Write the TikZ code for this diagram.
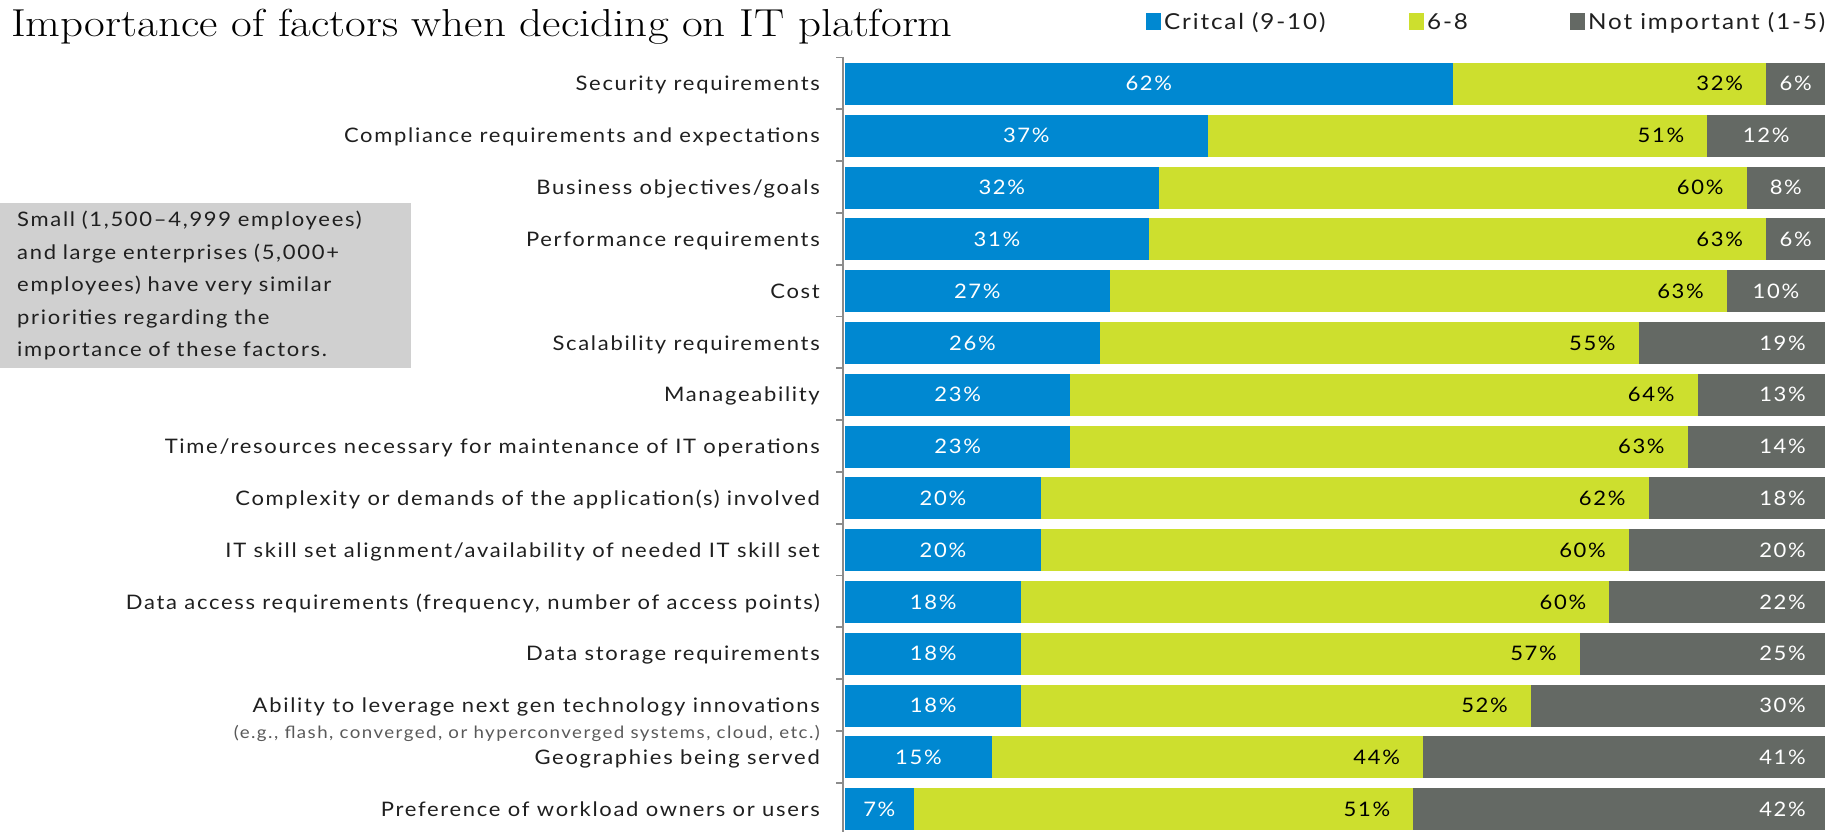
\documentclass[tikz,border=0pt]{standalone}
\usepackage{fontspec}
\newfontfamily\labelfont[FakeStretch=1.1,LetterSpace=8.5]{Lato}
\definecolor{critblue}{HTML}{0088D1}
\definecolor{midgreen}{HTML}{CDDF2E}
\definecolor{lowgray}{HTML}{646964}
\definecolor{notegray}{HTML}{D0D0D0}
\begin{document}
\begin{tikzpicture}[x=1pt,y=-1pt,
  pct/.style={font=\labelfont\fontsize{20}{24}\selectfont,inner sep=0pt},
  rowlabel/.style={pct,anchor=base east,text=black!88},
  legendtext/.style={font=\labelfont\fontsize{22}{26}\selectfont,inner sep=0pt,anchor=base west,text=black!88}]
  \useasboundingbox (0,0) rectangle (1842,832);
  \node [anchor=base west,inner sep=0pt,font=\fontsize{39}{44}\selectfont] (title) at (11,37)
   {\scalebox{1.155}[1]{Importance of factors when deciding on IT platform}};
  % legend
  \fill [critblue] (1146,13) rectangle (1161,30);
  \node [legendtext] (legcrit) at (1164,30) {Critcal (9-10)};
  \fill [midgreen] (1409,13) rectangle (1424,30);
  \node [legendtext] (legmid) at (1427,30) {6-8};
  \fill [lowgray] (1570,13) rectangle (1585,30);
  \node [legendtext] (leglow) at (1588,30) {Not important (1-5)};
  % note box
  \node [anchor=north west,fill=notegray,minimum width=411pt,minimum height=165pt,
   inner xsep=17pt,text width=377pt,align=left,text=black!88,
   font=\labelfont\fontsize{20}{32.5}\selectfont] (note) at (0,203)
   {Small (1,500–4,999 employees)\\and large enterprises (5,000+\\employees) have very similar\\priorities regarding the\\importance of these factors.};
  % axis
  \draw [line width=1.8pt,black!45] (843,57) -- (843,832);
  \foreach \k in {0,...,14}
   \draw [line width=1.8pt,black!45] (836,57.5+51.8*\k) -- (843,57.5+51.8*\k);
  % bars
  \foreach \lab/\a/\b/\c [count=\i] in {
    {Security requirements}/62/32/6,
    {Compliance requirements and expectations}/37/51/12,
    {Business objectives/goals}/32/60/8,
    {Performance requirements}/31/63/6,
    {Cost}/27/63/10,
    {Scalability requirements}/26/55/19,
    {Manageability}/23/64/13,
    {Time/resources necessary for maintenance of IT operations}/23/63/14,
    {Complexity or demands of the application(s) involved}/20/62/18,
    {IT skill set alignment/availability of needed IT skill set}/20/60/20,
    {Data access requirements (frequency, number of access points)}/18/60/22,
    {Data storage requirements}/18/57/25,
    {Ability to leverage next gen technology innovations}/18/52/30,
    {Geographies being served}/15/44/41,
    {Preference of workload owners or users}/7/51/42}{
    \pgfmathsetmacro\yc{84+51.8*(\i-1)}
    \pgfmathsetmacro\xa{845+9.8*\a}
    \pgfmathsetmacro\xb{845+9.8*(\a+\b)}
    \fill [critblue] (845,\yc-21) rectangle (\xa,\yc+21);
    \fill [midgreen] (\xa,\yc-21) rectangle (\xb,\yc+21);
    \fill [lowgray] (\xb,\yc-21) rectangle (1825,\yc+21);
    \node [rowlabel] (lab\i) at (820,\yc+7) {\lab};
    \node [pct,anchor=base,text=white] (crit\i) at ({(845+\xa)/2},\yc+7) {\a\%};
    \node [pct,anchor=base east,text=black] (mid\i) at (\xb-23,\yc+7) {\b\%};
    \ifnum\c<13
      \node [pct,anchor=base,text=white] (low\i) at ({(\xb+1825)/2},\yc+7) {\c\%};
    \else
      \node [pct,anchor=base east,text=white] (low\i) at (1806,\yc+7) {\c\%};
    \fi
  }
  \node [anchor=base east,inner sep=0pt,text=black!65,
   font=\labelfont\fontsize{17}{20}\selectfont] (labsub) at (820,738)
   {(e.g., flash, converged, or hyperconverged systems, cloud, etc.)};
\end{tikzpicture}
\end{document}
